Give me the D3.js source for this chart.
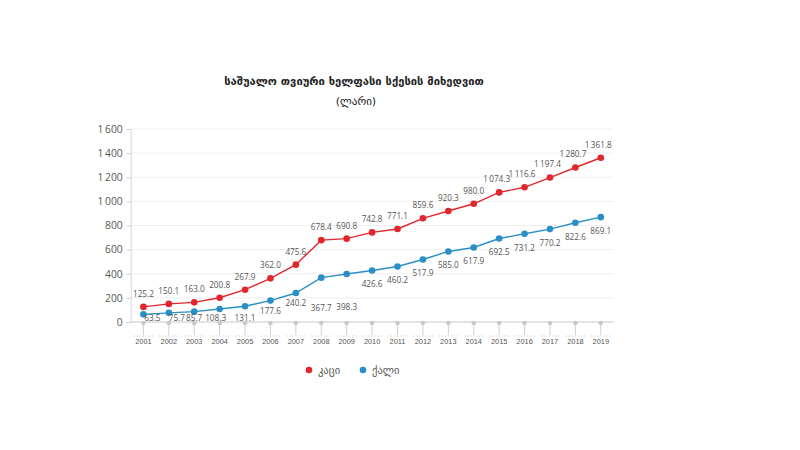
<!DOCTYPE html>
<html><head><meta charset="utf-8">
<script src="https://cdn.jsdelivr.net/npm/d3@7/dist/d3.min.js"></script>
<style>
html,body{margin:0;padding:0;background:#fff;}
svg{display:block;font-family:"Open Sans","DejaVu Sans",sans-serif;}
</style></head>
<body><svg id="c" width="800" height="450"></svg>
<script>
const years = ["2001","2002","2003","2004","2005","2006","2007","2008","2009","2010","2011","2012","2013","2014","2015","2016","2017","2018","2019"];
const men = [125.2,150.1,163.0,200.8,267.9,362.0,475.6,678.4,690.8,742.8,771.1,859.6,920.3,980.0,1074.3,1116.6,1197.4,1280.7,1361.8];
const women = [63.5,75.7,85.7,108.3,131.1,177.6,240.2,367.7,398.3,426.6,460.2,517.9,585.0,617.9,692.5,731.2,770.2,822.6,869.1];
const yTicks = [0,200,400,600,800,1000,1200,1400,1600];
const titleLines = ["საშუალო თვიური ხელფასი სქესის მიხედვით","(ლარი)"];
const seriesNames = ["კაცი","ქალი"];

const RED = "#e1262d", BLUE = "#2a8fc6";
const svg = d3.select("#c");
const pLeft = 130.7, pRight = 613.5, pTop = 129, pBottom = 322;

const x = d3.scaleBand().domain(years).range([pLeft, pRight]).padding(0);
const cx = d => x(d) + x.bandwidth()/2;
const y = d3.scaleLinear().domain([0,1600]).range([pBottom, pTop]);

const fmt = v => {
  const s = d3.format(".1f")(v);
  const [i, f] = s.split(".");
  const ii = i.length > 3 ? i.slice(0, i.length-3) + "\u2009" + i.slice(-3) : i;
  return ii + "." + f;
};
const fmtTick = v => {
  const s = String(v);
  return s.length > 3 ? s.slice(0, s.length-3) + "\u2009" + s.slice(-3) : s;
};

// title
svg.append("text").attr("x", 354).attr("y", 85).attr("text-anchor","middle")
  .attr("font-size", 11.2).attr("font-weight","bold").attr("fill","#222")
  .attr("font-family","'DejaVu Sans',sans-serif").text(titleLines[0]);
svg.append("text").attr("x", 356).attr("y", 105).attr("text-anchor","middle")
  .attr("font-size", 11).attr("fill","#222")
  .attr("font-family","'DejaVu Sans',sans-serif").text(titleLines[1]);

// grid
svg.append("g").selectAll("line").data(yTicks.filter(t=>t>0)).join("line")
  .attr("x1", pLeft).attr("x2", pRight).attr("y1", d=>y(d)).attr("y2", d=>y(d))
  .attr("stroke","#efefef").attr("stroke-width",1);
const yAxis = d3.axisLeft(y).tickValues(yTicks).tickFormat(fmtTick).tickSize(4).tickPadding(4);
const gy = svg.append("g").attr("transform",`translate(${pLeft},0)`).call(yAxis);
gy.select(".domain").attr("stroke","#d8d8d8");
gy.selectAll(".tick line").attr("stroke","#cfcfcf");
gy.selectAll(".tick text").attr("font-size", 10.3).attr("fill","#555")
  .attr("font-family","'Open Sans',sans-serif");
svg.append("line").attr("x1", pLeft).attr("x2", pRight).attr("y1", y(0)).attr("y2", y(0))
  .attr("stroke","#c8c8c8");

// x axis
const xAxis = d3.axisBottom(x).tickSize(0).tickPadding(17);
const gx = svg.append("g").attr("transform",`translate(0,${pBottom})`).call(xAxis);
gx.select(".domain").remove();
gx.selectAll(".tick text").attr("font-size", 7.4).attr("fill","#555");
svg.append("g").selectAll("line").data(years).join("line")
  .attr("x1", d => x(d)+3).attr("x2", d => x(d)+x.bandwidth()-3)
  .attr("y1", 336).attr("y2", 336)
  .attr("stroke","#d5d5d5").attr("stroke-dasharray","1.5,1.5");
svg.append("g").selectAll("line").data(years).join("line")
  .attr("x1", d => cx(d)).attr("x2", d => cx(d))
  .attr("y1", pBottom).attr("y2", 335)
  .attr("stroke","#d0d0d0");
svg.append("g").selectAll("circle").data(years).join("circle")
  .attr("cx", d => cx(d)).attr("cy", pBottom+1).attr("r", 2.3).attr("fill","#c9c9c9");

// lines
const line = d3.line().x((d,i)=>cx(years[i])).y(d=>y(d));
svg.append("path").datum(men).attr("d", line).attr("fill","none").attr("stroke",RED).attr("stroke-width",1.4);
svg.append("path").datum(women).attr("d", line).attr("fill","none").attr("stroke",BLUE).attr("stroke-width",1.4);
svg.append("g").selectAll("circle").data(men).join("circle")
  .attr("cx",(d,i)=>cx(years[i])).attr("cy", d=>y(d)).attr("r",3.3).attr("fill",RED);
svg.append("g").selectAll("circle").data(women).join("circle")
  .attr("cx",(d,i)=>cx(years[i])).attr("cy", d=>y(d)).attr("r",3.3).attr("fill",BLUE);

// labels
svg.append("g").selectAll("text").data(men).join("text")
  .attr("x",(d,i)=>cx(years[i]) - (d>=1000?2.5:0)).attr("y", d=>y(d)-13).attr("dy","0.35em")
  .attr("text-anchor","middle").attr("font-size",8.2).attr("fill","#555").text(fmt);
const blueDx = {"2001":9,"2002":8,"2004":-4};
const blueDy = {"2006":-3,"2007":-4,"2008":16,"2009":19};
svg.append("g").selectAll("text").data(women).join("text")
  .attr("x",(d,i)=>cx(years[i]) + (blueDx[years[i]]||0))
  .attr("y",(d,i)=>Math.min(y(d)+14, 318) + (blueDy[years[i]]||0))
  .attr("dy","0.35em")
  .attr("text-anchor","middle").attr("font-size",8.2).attr("fill","#555").text(fmt);

// legend
const lg = svg.append("g").attr("transform","translate(309,370)");
[RED, BLUE].forEach((c,i)=>{
  const g = lg.append("g").attr("transform",`translate(${i*54},0)`);
  g.append("circle").attr("r",3.3).attr("fill",c);
  g.append("text").attr("x",9).attr("dy","0.35em").attr("font-size",10.5).attr("fill","#555")
    .attr("font-family","'DejaVu Sans',sans-serif").text(seriesNames[i]);
});
</script></body></html>
